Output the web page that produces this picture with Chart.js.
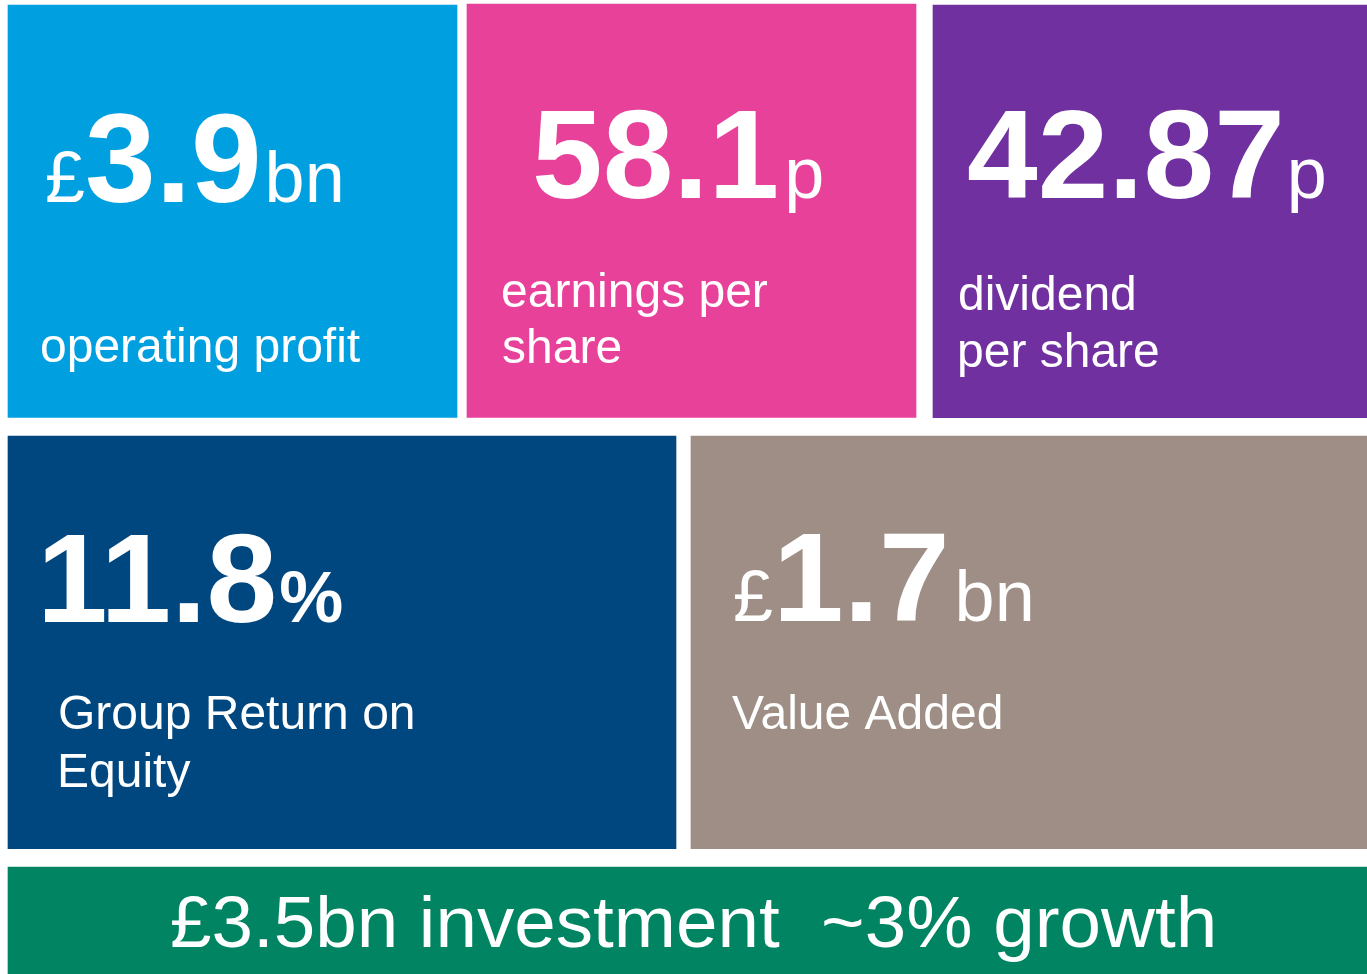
<!DOCTYPE html>
<html>
<head>
<meta charset="utf-8">
<script src="https://cdn.jsdelivr.net/npm/chart.js@4"></script>
<style>
  html, body { margin: 0; padding: 0; background: #ffffff; }
  #wrap { position: relative; width: 1367px; height: 974px; overflow: hidden; }
  canvas { display: block; }
</style>
</head>
<body>
<div id="wrap"><canvas id="c" width="1367" height="974"></canvas></div>
<script>
// ---- DATA ----
const metrics = ['operating profit', 'earnings per share', 'dividend per share', 'Group Return on Equity', 'Value Added', 'investment'];
const values = [3.9, 58.1, 42.87, 11.8, 1.7, 3.5];
const prefixes = ['£', '', '', '', '£', '£'];
const units = ['bn', 'p', 'p', '%', 'bn', 'bn'];
const labelLines = [['operating profit'], ['earnings per', 'share'], ['dividend', 'per share'], ['Group Return on', 'Equity'], ['Value Added'], ['investment']];
const growthPct = 3;
const growthLabel = 'growth';

// ---- STYLE / LAYOUT (not data) ----
const colors = ['#009FDF', '#E8419A', '#7030A0', '#00467F', '#9E8E85', '#008462'];
// tile boxes in canvas units: [x0, x1, yTop, yBottom]
const boxes = [
  [8, 457, 5, 417.3],
  [467, 916, 4, 417.3],
  [933, 1367, 5, 417.7],
  [8, 676, 436, 848.7],
  [691, 1367, 436, 848.7],
  [8, 1367, 867, 974]
];
// text placement offsets relative to tile top-left
const textLayout = [
  { inkX: 39, base: 197, gap: 3, labelX: 34, labelBase: [357] },
  { inkX: 68, base: 194, gap: 5, labelX: 36, labelBase: [303, 359] },
  { inkX: 35, base: 193, gap: 2, labelX: 27, labelBase: [305, 362] },
  { inkX: 37, base: 186, gap: 2, labelX: 52, labelBase: [293, 351] },
  { inkX: 44, base: 185, gap: 5, labelX: 41, labelBase: [293] }
];
const bannerLayout = { inkX: 164, base: 80, inkWidth: 1041, size: 72 };
const FONT = '"Liberation Sans", Arial, Helvetica, sans-serif';
const NUM_SIZE = 127, SUFFIX_SIZE = 72, LABEL_SIZE = 48;

const datasets = boxes.map((b, i) => ({
  label: metrics[i],
  data: [{ y: (b[2] + b[3]) / 2, x: [b[0], b[1]] }],
  backgroundColor: colors[i],
  borderWidth: 0,
  borderSkipped: false,
  barThickness: b[3] - b[2],
  grouped: false
}));

function fmt(v) { return String(v); }

const textPlugin = {
  id: 'tileText',
  afterDatasetsDraw(chart) {
    const ctx = chart.ctx;
    ctx.save();
    ctx.fillStyle = '#ffffff';
    ctx.textBaseline = 'alphabetic';
    ctx.textAlign = 'left';
    chart.data.datasets.forEach((ds, i) => {
      const el = chart.getDatasetMeta(i).data[0];
      const p = el.getProps(['x', 'y', 'base', 'height'], true);
      const left = Math.min(p.x, p.base);
      const top = p.y - p.height / 2;
      if (i < 5) {
        const L = textLayout[i];
        const runs = [];
        if (prefixes[i]) runs.push({ t: prefixes[i], f: 'normal ' + SUFFIX_SIZE + 'px ' + FONT, g: 0 });
        runs.push({ t: fmt(values[i]), f: 'bold ' + NUM_SIZE + 'px ' + FONT, g: 0 });
        runs.push({ t: units[i], f: (units[i] === '%' ? 'bold ' : 'normal ') + SUFFIX_SIZE + 'px ' + FONT, g: L.gap });
        const baseY = top + L.base;
        let pen = null;
        runs.forEach((r, k) => {
          ctx.font = r.f;
          const m = ctx.measureText(r.t);
          if (k === 0) pen = left + L.inkX + m.actualBoundingBoxLeft;
          else pen += r.g;
          ctx.fillText(r.t, pen, baseY);
          pen += m.width;
        });
        ctx.font = 'normal ' + LABEL_SIZE + 'px ' + FONT;
        labelLines[i].forEach((line, k) => {
          const m = ctx.measureText(line);
          ctx.fillText(line, left + L.labelX + m.actualBoundingBoxLeft, top + L.labelBase[k]);
        });
      } else {
        const B = bannerLayout;
        const txt = prefixes[i] + fmt(values[i]) + units[i] + ' ' + labelLines[i][0] + '  ~' + growthPct + '% ' + growthLabel;
        ctx.font = 'normal ' + B.size + 'px ' + FONT;
        const m = ctx.measureText(txt);
        const ink = m.actualBoundingBoxLeft + m.actualBoundingBoxRight;
        const sx = B.inkWidth / ink;
        ctx.save();
        ctx.translate(left + B.inkX, top + B.base);
        ctx.scale(sx, 1);
        ctx.fillText(txt, m.actualBoundingBoxLeft, 0);
        ctx.restore();
      }
    });
    ctx.restore();
  }
};

new Chart(document.getElementById('c'), {
  type: 'bar',
  data: { datasets },
  options: {
    indexAxis: 'y',
    responsive: false,
    animation: false,
    devicePixelRatio: 1,
    layout: { padding: 0 },
    scales: {
      x: { type: 'linear', min: 0, max: 1367, display: false, offset: false },
      y: { type: 'linear', min: 0, max: 974, reverse: true, display: false, offset: false, grid: { offset: false } }
    },
    plugins: { legend: { display: false }, tooltip: { enabled: false } },
    events: []
  },
  plugins: [textPlugin]
});
</script>
</body>
</html>
